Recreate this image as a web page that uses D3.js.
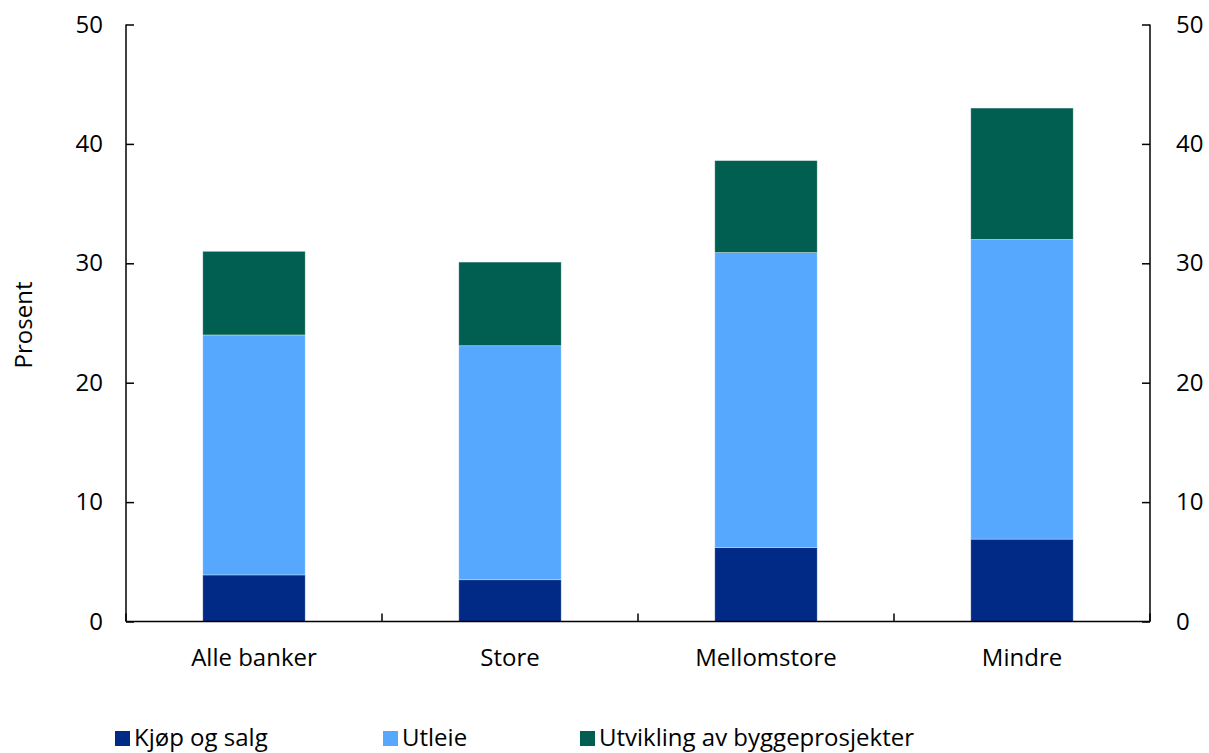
<!DOCTYPE html>
<html><head><meta charset="utf-8">
<script src="https://cdn.jsdelivr.net/npm/d3@7"></script>
<style>
body{margin:0;background:#fff;}
text{font-family:"Open Sans",sans-serif;fill:#000;}
</style></head>
<body><svg id="c" width="1209" height="753"></svg>
<script>
const categories = ["Alle banker","Store","Mellomstore","Mindre"];
const seriesNames = ["Kjøp og salg","Utleie","Utvikling av byggeprosjekter"];
const kjop = [3.9, 3.5, 6.2, 6.9];
const utleie = [20.1, 19.6, 24.7, 25.1];
const utvikling = [7.0, 7.0, 7.7, 11.0];
const colors = ["#002A85","#56A8FF","#005F50"];
const yTicks = [0,10,20,30,40,50];

const svg = d3.select("#c");
const L=126, R=1150, T=24.5, B=621.5;
const FS = "24px";
const x = d3.scaleBand().domain(categories).range([L,R]).paddingInner(0.6).paddingOuter(0.3);
const y = d3.scaleLinear().domain([0,50]).range([B,T]);

const rows = categories.map((c,i)=>({cat:c, k:kjop[i], u:utleie[i], v:utvikling[i]}));
const stack = d3.stack().keys(["k","u","v"])(rows);

svg.append("g").selectAll("g").data(stack).join("g")
  .attr("fill",(d,i)=>colors[i])
  .selectAll("rect").data(d=>d).join("rect")
  .attr("x",d=>x(d.data.cat)).attr("width",x.bandwidth())
  .attr("y",d=>y(d[1])).attr("height",d=>y(d[0])-y(d[1]))
  .attr("stroke","rgba(255,255,255,0.4)").attr("stroke-width",0.8);

const yl = svg.append("g").attr("transform",`translate(${L},0)`)
  .call(d3.axisLeft(y).tickValues(yTicks).tickSize(-8).tickPadding(23).tickFormat(d3.format("d")));
const yr = svg.append("g").attr("transform",`translate(${R},0)`)
  .call(d3.axisRight(y).tickValues(yTicks).tickSize(-8).tickPadding(26).tickFormat(d3.format("d")));
[yl,yr].forEach(g=>{
  g.select(".domain").attr("d",null);
  g.selectAll("text").style("font-size",FS).style("font-family","'Open Sans',sans-serif");
  g.selectAll("line").attr("stroke","#000").attr("stroke-width",1.5);
});
svg.append("line").attr("x1",L).attr("x2",L).attr("y1",T).attr("y2",B).attr("stroke","#000").attr("stroke-width",1.5);
svg.append("line").attr("x1",R).attr("x2",R).attr("y1",T).attr("y2",B).attr("stroke","#000").attr("stroke-width",1.5);

const step = (R-L)/categories.length;
svg.append("line").attr("x1",L).attr("x2",R).attr("y1",B).attr("y2",B).attr("stroke","#000").attr("stroke-width",1.5);
const sep = d3.range(categories.length+1).map(i=>L+i*step);
svg.append("g").selectAll("line").data(sep).join("line")
  .attr("x1",d=>d).attr("x2",d=>d).attr("y1",B).attr("y2",B-8).attr("stroke","#000").attr("stroke-width",1.5);
svg.append("g").selectAll("text").data(categories).join("text")
  .attr("x",d=>x(d)+x.bandwidth()/2).attr("y",665.5).attr("text-anchor","middle")
  .style("font-size",FS).text(d=>d);

svg.append("text").attr("transform","translate(32,325) rotate(-90)").attr("text-anchor","middle")
  .style("font-size",FS).text("Prosent");

const legX = [115, 383, 580];
const lg = svg.append("g").selectAll("g").data(seriesNames).join("g")
  .attr("transform",(d,i)=>`translate(${legX[i]},731)`);
lg.append("rect").attr("width",15).attr("height",15).attr("fill",(d,i)=>colors[i]);
lg.append("text").attr("x",19).attr("y",15).style("font-size",FS).text(d=>d);
</script></body></html>
